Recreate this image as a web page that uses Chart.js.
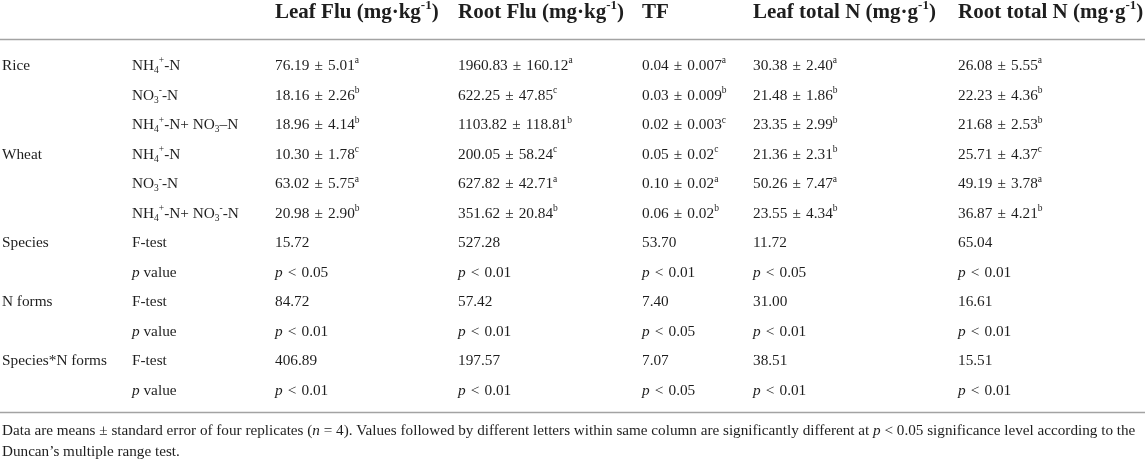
<!DOCTYPE html>
<html><head><meta charset="utf-8">
<script src="https://cdn.jsdelivr.net/npm/chart.js@4.4.1/dist/chart.umd.min.js"></script>
<style>html,body{margin:0;padding:0;background:#fff;}#wrap{width:1145px;height:464px;position:relative;}</style>
</head><body><div id="wrap"><canvas id="c"></canvas></div>
<script>
// ---------- data ----------
const columnHeaders = ['', '', 'Leaf Flu (mg·kg^{-1})', 'Root Flu (mg·kg^{-1})', 'TF', 'Leaf total N (mg·g^{-1})', 'Root total N (mg·g^{-1})'];
const speciesLabels = ['Rice', '', '', 'Wheat', '', ''];
const nFormLabels = ['NH_{4}^{+}-N', 'NO_{3}^{-}-N', 'NH_{4}^{+}-N+ NO_{3}–N', 'NH_{4}^{+}-N', 'NO_{3}^{-}-N', 'NH_{4}^{+}-N+ NO_{3}^{-}-N'];
const leafFluMean = ['76.19', '18.16', '18.96', '10.30', '63.02', '20.98'];
const leafFluSE = ['5.01', '2.26', '4.14', '1.78', '5.75', '2.90'];
const leafFluLetter = ['a', 'b', 'b', 'c', 'a', 'b'];
const rootFluMean = ['1960.83', '622.25', '1103.82', '200.05', '627.82', '351.62'];
const rootFluSE = ['160.12', '47.85', '118.81', '58.24', '42.71', '20.84'];
const rootFluLetter = ['a', 'c', 'b', 'c', 'a', 'b'];
const tfMean = ['0.04', '0.03', '0.02', '0.05', '0.10', '0.06'];
const tfSE = ['0.007', '0.009', '0.003', '0.02', '0.02', '0.02'];
const tfLetter = ['a', 'b', 'c', 'c', 'a', 'b'];
const leafNMean = ['30.38', '21.48', '23.35', '21.36', '50.26', '23.55'];
const leafNSE = ['2.40', '1.86', '2.99', '2.31', '7.47', '4.34'];
const leafNLetter = ['a', 'b', 'b', 'b', 'a', 'b'];
const rootNMean = ['26.08', '22.23', '21.68', '25.71', '49.19', '36.87'];
const rootNSE = ['5.55', '4.36', '2.53', '4.37', '3.78', '4.21'];
const rootNLetter = ['a', 'b', 'b', 'c', 'a', 'b'];
const effectLabels = ['Species', 'N forms', 'Species*N forms'];
const fLeafFlu = [15.72, 84.72, 406.89];
const fRootFlu = [527.28, 57.42, 197.57];
const fTF = [53.70, 7.40, 7.07];
const fLeafN = [11.72, 31.00, 38.51];
const fRootN = [65.04, 16.61, 15.51];
const pLeafFlu = [0.05, 0.01, 0.01];
const pRootFlu = [0.01, 0.01, 0.01];
const pTF = [0.01, 0.05, 0.05];
const pLeafN = [0.05, 0.01, 0.01];
const pRootN = [0.01, 0.01, 0.01];
const footnoteLines = [
  'Data are means ± standard error of four replicates (~{n} = 4). Values followed by different letters within same column are significantly different at ~{p} < 0.05 significance level according to the',
  'Duncan’s multiple range test.'
];

// ---------- layout (table units) ----------
const COL_X = [2, 132, 275, 458, 642, 753, 958];
const HEADER_ROW = -1.80, TOP_RULE = -0.914, BOTTOM_RULE = 11.71, FOOT_ROWS = [12.37, 13.05];
const FOOT_RIGHT = 1136;
const FONT = '"Liberation Serif", "DejaVu Serif", serif';
const INK = '#1e1e1e';
const GAP = ' \u200A';

// ---------- build cells ----------
const meanCols = [[leafFluMean, leafFluSE, leafFluLetter], [rootFluMean, rootFluSE, rootFluLetter], [tfMean, tfSE, tfLetter], [leafNMean, leafNSE, leafNLetter], [rootNMean, rootNSE, rootNLetter]];
const fCols = [fLeafFlu, fRootFlu, fTF, fLeafN, fRootN];
const pCols = [pLeafFlu, pRootFlu, pTF, pLeafN, pRootN];
const bodyCells = [];
speciesLabels.forEach((s, r) => {
  bodyCells.push({x: COL_X[0], y: r, text: s});
  bodyCells.push({x: COL_X[1], y: r, text: nFormLabels[r]});
  meanCols.forEach((m, c) => bodyCells.push({x: COL_X[c + 2], y: r, text: m[0][r] + GAP + '±' + GAP + m[1][r] + '^{' + m[2][r] + '}'}));
});
effectLabels.forEach((e, k) => {
  const r1 = 6 + k * 2, r2 = r1 + 1;
  bodyCells.push({x: COL_X[0], y: r1, text: e});
  bodyCells.push({x: COL_X[1], y: r1, text: 'F-test'});
  bodyCells.push({x: COL_X[1], y: r2, text: '~{p} value'});
  fCols.forEach((f, c) => bodyCells.push({x: COL_X[c + 2], y: r1, text: f[k].toFixed(2)}));
  pCols.forEach((p, c) => bodyCells.push({x: COL_X[c + 2], y: r2, text: '~{p}' + GAP + '<' + GAP + p[k].toFixed(2)}));
});
const headerCells = columnHeaders.map((h, c) => ({x: COL_X[c], y: HEADER_ROW, text: h})).filter(d => d.text);
const footCells = footnoteLines.map((t, i) => ({x: COL_X[0], y: FOOT_ROWS[i], text: t, fit: i === 0}));

// ---------- rich text ----------
function parseRich(str) {
  const parts = []; const re = /(_|\^|~)\{([^}]*)\}/g; let last = 0, m;
  while ((m = re.exec(str))) {
    if (m.index > last) parts.push({t: str.slice(last, m.index), k: 'n'});
    parts.push({t: m[2], k: m[1]}); last = re.lastIndex;
  }
  if (last < str.length) parts.push({t: str.slice(last), k: 'n'});
  return parts;
}
function fontFor(k, size, weight) {
  let fs = size, dy = 0, st = '';
  if (k === '_') { fs = size * 0.62; dy = size * 0.3; }
  else if (k === '^') { fs = size * 0.62; dy = -size * 0.33; }
  else if (k === '~') { st = 'italic '; }
  return {font: st + weight + ' ' + fs + 'px ' + FONT, dy};
}
function measureRich(ctx, str, size, weight) {
  let w = 0;
  parseRich(str).forEach(p => { ctx.font = fontFor(p.k, size, weight).font; w += ctx.measureText(p.t).width; });
  return w;
}
function drawRich(ctx, str, x, y, size, weight) {
  let cx = x;
  parseRich(str).forEach(p => {
    const f = fontFor(p.k, size, weight); ctx.font = f.font;
    ctx.fillText(p.t, cx, y + f.dy);
    cx += ctx.measureText(p.t).width;
  });
}

const tablePlugin = {
  id: 'tableText',
  afterDatasetsDraw(chart) {
    const ctx = chart.ctx, ys = chart.scales.y, xs = chart.scales.x, area = chart.chartArea;
    ctx.save();
    ctx.strokeStyle = '#a3a3a3'; ctx.lineWidth = 1.6;
    [TOP_RULE, BOTTOM_RULE].forEach(v => {
      const py = Math.round(ys.getPixelForValue(v)) + 0.5;
      ctx.beginPath(); ctx.moveTo(area.left, py); ctx.lineTo(area.right, py); ctx.stroke();
    });
    ctx.fillStyle = INK; ctx.textBaseline = 'middle'; ctx.textAlign = 'left';
    chart.data.datasets.forEach((ds, i) => {
      const meta = chart.getDatasetMeta(i);
      let size = ds.fontSize;
      const fitCell = ds.data.find(d => d.fit);
      if (fitCell) {
        const avail = xs.getPixelForValue(FOOT_RIGHT) - xs.getPixelForValue(fitCell.x);
        size = ds.fontSize * avail / measureRich(ctx, fitCell.text, ds.fontSize, ds.fontWeight);
      }
      meta.data.forEach((el, j) => drawRich(ctx, ds.data[j].text, el.x, el.y, size, ds.fontWeight));
    });
    ctx.restore();
  }
};

new Chart(document.getElementById('c'), {
  type: 'scatter',
  data: {datasets: [
    {label: 'header', data: headerCells, fontSize: 21, fontWeight: 'bold', pointRadius: 0, pointHoverRadius: 0},
    {label: 'body', data: bodyCells, fontSize: 15.3, fontWeight: 'normal', pointRadius: 0, pointHoverRadius: 0},
    {label: 'foot', data: footCells, fontSize: 14.5, fontWeight: 'normal', pointRadius: 0, pointHoverRadius: 0}
  ]},
  options: {
    responsive: true, maintainAspectRatio: false, animation: false, devicePixelRatio: 1,
    layout: {padding: 0},
    events: [],
    plugins: {legend: {display: false}, tooltip: {enabled: false}},
    scales: {
      x: {type: 'linear', min: 0, max: 1145, display: false},
      y: {type: 'linear', min: -2.234, max: 13.47, reverse: true, display: false}
    }
  },
  plugins: [tablePlugin]
});
</script></body></html>
